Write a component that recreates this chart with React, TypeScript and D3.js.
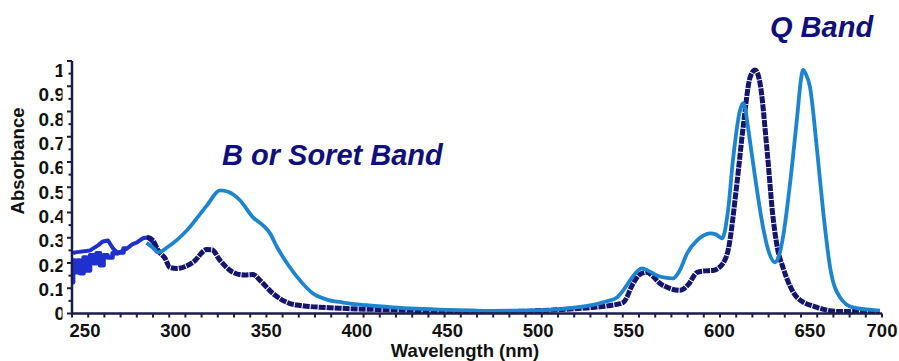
import React from "react";
import * as d3 from "d3";

// ---- data (wavelength nm / absorbance) ----
const LIGHT_WL = [284.0, 287.5, 290.3, 296, 306.3, 317.3, 324.5, 329, 335.5, 342.7, 348.2, 352, 356.0, 363.1, 368.6, 375.8, 383, 392.4, 405, 420, 450, 475, 500, 515, 528.6, 537, 543.5, 547, 550.7, 557.3, 561, 565.6, 570, 574.4, 578, 582.2, 587.7, 594.9, 598, 601.5, 604.8, 607.5, 611.4, 613.1, 614.3, 615.8, 619.7, 624.1, 627, 630.7, 633, 635.1, 639.0, 642.9, 645, 646.2, 647.6, 650.0, 653.9, 657.2, 661.1, 666.6, 673.7, 688.6];
const LIGHT_ABS = [0.29, 0.27, 0.251, 0.275, 0.342, 0.444, 0.506, 0.5, 0.465, 0.395, 0.362, 0.33, 0.272, 0.189, 0.136, 0.082, 0.058, 0.045, 0.034, 0.025, 0.015, 0.011, 0.013, 0.02, 0.033, 0.048, 0.066, 0.095, 0.136, 0.185, 0.175, 0.156, 0.147, 0.144, 0.175, 0.247, 0.3, 0.329, 0.325, 0.309, 0.424, 0.63, 0.835, 0.864, 0.84, 0.765, 0.56, 0.354, 0.26, 0.21, 0.24, 0.313, 0.535, 0.807, 0.96, 1.0, 0.985, 0.93, 0.671, 0.424, 0.189, 0.066, 0.025, 0.012];

const NAVY_WL = [284.2, 287.5, 290.3, 294.2, 296.9, 300.8, 305, 309.6, 317.3, 320, 324.5, 331.7, 338, 342.7, 346.6, 353.7, 363.1, 368.6, 390, 420, 450, 480, 510, 530, 540, 546.9, 552.4, 556, 560.1, 563, 567.3, 572, 578.3, 583, 587.7, 592, 596.5, 602.0, 604.8, 609.7, 613.1, 617.0, 619.7, 622.4, 626.3, 629.6, 632, 635.1, 642.9, 653.9, 666.6, 688.6];
const NAVY_ABS = [0.313, 0.3, 0.259, 0.226, 0.189, 0.185, 0.192, 0.21, 0.263, 0.262, 0.218, 0.169, 0.158, 0.16, 0.136, 0.082, 0.041, 0.033, 0.022, 0.015, 0.01, 0.008, 0.015, 0.025, 0.033, 0.045, 0.123, 0.16, 0.169, 0.155, 0.123, 0.105, 0.095, 0.12, 0.169, 0.175, 0.177, 0.206, 0.259, 0.535, 0.765, 0.971, 1.0, 0.947, 0.671, 0.395, 0.27, 0.189, 0.066, 0.025, 0.008, 0.008];

const NOISE_UP_WL = [243.4, 244.5, 252.8, 257.2, 259.9, 262.7, 265.5, 268.2, 273.2, 276.0, 278.7, 282.0, 284.8, 287.5, 289.7, 291.4];
const NOISE_UP_ABS = [0.247, 0.251, 0.259, 0.28, 0.296, 0.3, 0.267, 0.247, 0.267, 0.284, 0.292, 0.309, 0.313, 0.292, 0.263, 0.247];

const NOISE_LO_WL = [243.4, 243.5, 245.6, 246.2, 248.4, 250.0, 251.7, 253.9, 255.5, 257.2, 259.4, 261.1, 263.8, 266.6, 269.3, 273.2];
const NOISE_LO_ABS = [0.128, 0.218, 0.169, 0.218, 0.165, 0.23, 0.177, 0.239, 0.206, 0.247, 0.198, 0.239, 0.23, 0.247, 0.251, 0.267];

const X_LABELS = [250, 300, 350, 400, 450, 500, 550, 600, 650, 700];
const Y_LABELS = [0, 0.1, 0.2, 0.3, 0.4, 0.5, 0.6, 0.7, 0.8, 0.9, 1];
const Y_LABEL_TEXT = ["0", "0.1", "0.2", "0.3", "0.4", "0.5", "0.6", "0.7", "0.8", "0.9", "1"];

const NAVY = "#15156e";
const LIGHT = "#1d84cf";
const MID = "#1f30cf";
const TEXT = "#10107a";
const AXIS = "#1c1c4a";
const FONT = "'Liberation Sans', Arial, Helvetica, sans-serif";

export default function App() {
  const x = d3.scaleLinear().domain([250, 650]).range([85, 810]);
  const y = d3.scaleLinear().domain([0, 1]).range([313.5, 70]);
  const axisLeft = 72;
  const axisRight = 882;
  const axisTop = 61;
  const axisY = y(0);

  const xStart = x.invert(axisLeft);
  const xEnd = x.invert(axisRight);
  const xTicks = d3.range(0, 51).map((i) => xStart + (i * (xEnd - xStart)) / 50);
  const yTop = y.invert(axisTop);
  const yTicks = d3.range(0, 21).map((i) => (i * yTop) / 20);

  const smooth = d3
    .line<[number, number]>()
    .x((d) => x(d[0]))
    .y((d) => y(d[1]))
    .curve(d3.curveMonotoneX);
  const straight = d3
    .line<[number, number]>()
    .x((d) => x(d[0]))
    .y((d) => y(d[1]));
  const stepped = d3
    .line<[number, number]>()
    .x((d) => x(d[0]))
    .y((d) => y(d[1]))
    .curve(d3.curveStep);

  const zip = (a: number[], b: number[]) => a.map((v, i) => [v, b[i]] as [number, number]);

  return (
    <svg
      width={899}
      height={361}
      style={{ position: "absolute", left: 0, top: 0, background: "#fff" }}
      fontFamily={FONT}
    >
      <defs>
        <clipPath id="ylabclip">
          <rect x={0} y={0} width={62.5} height={361} />
        </clipPath>
      </defs>

      {/* y tick labels */}
      <g clipPath="url(#ylabclip)">
        {Y_LABELS.map((v, i) => (
          <text
            key={v}
            x={65}
            y={y(v)}
            dy="0.36em"
            textAnchor="end"
            fontSize={19}
            fontWeight="bold"
            fill="#111"
          >
            {Y_LABEL_TEXT[i]}
          </text>
        ))}
      </g>

      {/* y title */}
      <text
        transform={`translate(24,161) rotate(-90)`}
        textAnchor="middle"
        fontSize={18.5}
        fontWeight="bold"
        fill="#111"
      >
        Absorbance
      </text>

      {/* x tick labels */}
      {X_LABELS.map((v) => (
        <text
          key={v}
          x={Math.min(x(v), axisRight)}
          y={336.5}
          textAnchor="middle"
          fontSize={18.5}
          fontWeight="bold"
          fill="#111"
        >
          {v}
        </text>
      ))}
      <text x={465} y={357} textAnchor="middle" fontSize={18.5} fontWeight="bold" fill="#111">
        Wavelength (nm)
      </text>

      {/* curves */}
      <path d={stepped(zip(NOISE_LO_WL, NOISE_LO_ABS)) || ""} fill="none" stroke={MID} strokeWidth={4.5} strokeLinejoin="round" />
      <path d={straight(zip(NOISE_UP_WL, NOISE_UP_ABS)) || ""} fill="none" stroke={MID} strokeWidth={4} strokeLinejoin="round" />
      <path d={smooth(zip(NAVY_WL, NAVY_ABS)) || ""} fill="none" stroke={NAVY} strokeWidth={5} strokeDasharray="7 1" />
      <path d={smooth(zip(LIGHT_WL, LIGHT_ABS)) || ""} fill="none" stroke={LIGHT} strokeWidth={3.8} strokeLinejoin="round" />

      {/* axes */}
      <line x1={axisLeft} x2={axisLeft} y1={axisTop} y2={axisY + 1} stroke={AXIS} strokeWidth={2.5} />
      <line x1={axisLeft - 1} x2={axisRight} y1={axisY} y2={axisY} stroke={AXIS} strokeWidth={2.5} />
      {yTicks.map((v, i) => (
        <line key={"yt" + i} x1={axisLeft - (i % 2 === 0 ? 5 : 3.5)} x2={axisLeft} y1={y(v)} y2={y(v)} stroke={AXIS} strokeWidth={2} />
      ))}
      {xTicks.map((v, i) => (
        <line key={"xt" + i} x1={x(v)} x2={x(v)} y1={axisY} y2={axisY + 4} stroke={AXIS} strokeWidth={2} />
      ))}

      {/* annotations */}
      <text x={222} y={165} fontSize={29} fontWeight="bold" fontStyle="italic" fill={TEXT}>
        B or Soret Band
      </text>
      <text x={770} y={37} fontSize={29} fontWeight="bold" fontStyle="italic" fill={TEXT}>
        Q Band
      </text>
    </svg>
  );
}
